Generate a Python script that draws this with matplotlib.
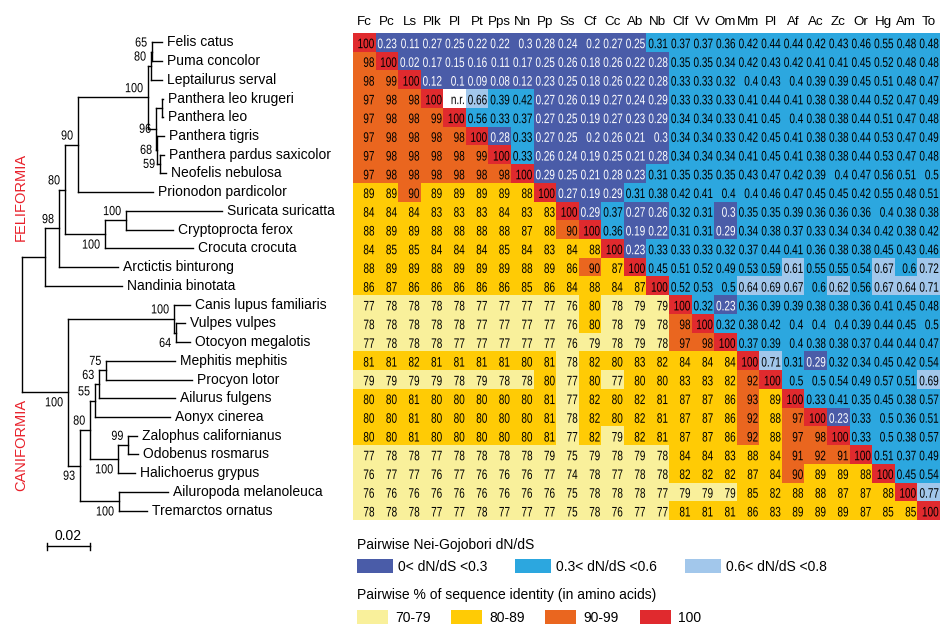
import matplotlib
matplotlib.use("Agg")
import matplotlib.pyplot as plt
import matplotlib.patheffects as pe
import numpy as np
from matplotlib.colors import ListedColormap
from matplotlib.patches import Rectangle
from matplotlib.transforms import Affine2D

plt.rcParams['font.family'] = ['Liberation Sans', 'DejaVu Sans']

# Noms abrégés des colonnes (même ordre que les feuilles de l'arbre)
col_labels = ["Fc", "Pc", "Ls", "Plk", "Pl", "Pt", "Pps", "Nn", "Pp", "Ss", "Cf", "Cc", "Ab",
              "Nb", "Clf", "Vv", "Om", "Mm", "Pl", "Af", "Ac", "Zc", "Or", "Hg", "Am", "To"]

# Matrice : triangle inférieur = % d'identité, diagonale = 100, triangle supérieur = dN/dS
matrix_rows = [
    "100 0.23 0.11 0.27 0.25 0.22 0.22 0.3 0.28 0.24 0.2 0.27 0.25 0.31 0.37 0.37 0.36 0.42 0.44 0.44 0.42 0.43 0.46 0.55 0.48 0.48",
    "98 100 0.02 0.17 0.15 0.16 0.11 0.17 0.25 0.26 0.18 0.26 0.22 0.28 0.35 0.35 0.34 0.42 0.43 0.42 0.41 0.41 0.45 0.52 0.48 0.48",
    "98 99 100 0.12 0.1 0.09 0.08 0.12 0.23 0.25 0.18 0.26 0.22 0.28 0.33 0.33 0.32 0.4 0.43 0.4 0.39 0.39 0.45 0.51 0.48 0.47",
    "97 98 98 100 n.r. 0.66 0.39 0.42 0.27 0.26 0.19 0.27 0.24 0.29 0.33 0.33 0.33 0.41 0.44 0.41 0.38 0.38 0.44 0.52 0.47 0.49",
    "97 98 98 99 100 0.56 0.33 0.37 0.27 0.25 0.19 0.27 0.23 0.29 0.34 0.34 0.33 0.41 0.45 0.4 0.38 0.38 0.44 0.51 0.47 0.48",
    "97 98 98 98 98 100 0.28 0.33 0.27 0.25 0.2 0.26 0.21 0.3 0.34 0.34 0.33 0.42 0.45 0.41 0.38 0.38 0.44 0.53 0.47 0.49",
    "97 98 98 98 98 99 100 0.33 0.26 0.24 0.19 0.25 0.21 0.28 0.34 0.34 0.34 0.41 0.45 0.41 0.38 0.38 0.44 0.53 0.47 0.48",
    "97 98 98 98 98 98 98 100 0.29 0.25 0.21 0.28 0.23 0.31 0.35 0.35 0.35 0.43 0.47 0.42 0.39 0.4 0.47 0.56 0.51 0.5",
    "89 89 90 89 89 89 89 88 100 0.27 0.19 0.29 0.31 0.38 0.42 0.41 0.4 0.4 0.46 0.47 0.45 0.45 0.42 0.55 0.48 0.51",
    "84 84 84 83 83 83 84 83 83 100 0.29 0.37 0.27 0.26 0.32 0.31 0.3 0.35 0.35 0.39 0.36 0.36 0.36 0.4 0.38 0.38",
    "88 89 89 88 88 88 88 87 88 90 100 0.36 0.19 0.22 0.31 0.31 0.29 0.34 0.38 0.37 0.33 0.34 0.34 0.42 0.38 0.42",
    "84 85 85 84 84 84 85 84 83 84 88 100 0.23 0.33 0.33 0.33 0.32 0.37 0.44 0.41 0.36 0.38 0.38 0.45 0.43 0.46",
    "88 89 89 88 89 89 89 88 89 86 90 87 100 0.45 0.51 0.52 0.49 0.53 0.59 0.61 0.55 0.55 0.54 0.67 0.6 0.72",
    "86 87 86 86 86 86 86 85 86 84 88 84 87 100 0.52 0.53 0.5 0.64 0.69 0.67 0.6 0.62 0.56 0.67 0.64 0.71",
    "77 78 78 78 78 77 77 77 77 76 80 78 79 79 100 0.32 0.23 0.36 0.39 0.39 0.38 0.38 0.36 0.41 0.45 0.48",
    "78 78 78 78 78 77 77 77 77 76 80 78 79 78 98 100 0.32 0.38 0.42 0.4 0.4 0.4 0.39 0.44 0.45 0.5",
    "77 78 78 78 77 77 77 77 77 76 79 78 79 78 97 98 100 0.37 0.39 0.4 0.38 0.38 0.37 0.44 0.44 0.47",
    "81 81 82 81 81 81 81 80 81 78 82 80 83 82 84 84 84 100 0.71 0.31 0.29 0.32 0.34 0.45 0.42 0.54",
    "79 79 79 79 78 79 78 78 80 77 80 77 80 80 83 83 82 92 100 0.5 0.5 0.54 0.49 0.57 0.51 0.69",
    "80 80 81 80 80 80 80 80 81 77 82 80 82 81 87 87 86 93 89 100 0.33 0.41 0.35 0.45 0.38 0.57",
    "80 80 81 80 80 80 80 80 81 78 82 80 82 81 87 87 86 92 88 97 100 0.23 0.33 0.5 0.36 0.51",
    "80 80 81 80 80 80 80 80 81 77 82 79 82 81 87 87 86 92 88 97 98 100 0.33 0.5 0.38 0.57",
    "77 78 78 77 78 78 78 78 79 75 79 78 79 78 84 84 83 88 84 91 92 91 100 0.51 0.37 0.49",
    "76 77 77 76 77 76 76 76 77 74 78 77 78 78 82 82 82 87 84 90 89 89 88 100 0.45 0.54",
    "76 76 76 76 76 76 76 76 76 75 78 78 78 77 79 79 79 85 82 88 88 87 87 88 100 0.77",
    "78 78 78 77 77 78 77 77 77 75 78 76 77 77 81 81 81 86 83 89 89 89 87 85 85 100",
]

# Arbre : (nom ou enfants, longueur de branche, bootstrap, côté de l'étiquette)
felis = ([("Felis catus", 0.0047), ("Puma concolor", 0.0047)], 0.0005, "65", "up")
lynx = ([felis, ("Leptailurus serval", 0.0051)], 0.0014, "80", "up")
leo = ([("Panthera leo krugeri", 0.0005), ("Panthera leo", 0.0005)], 0.0028, None, None)
pardus = ([("Panthera pardus saxicolor", 0.0019), ("Neofelis nebulosa", 0.0028)], 0.0014, "59", "mid")
tigris = ([("Panthera tigris", 0.0033), pardus], 0.0005, "68", "mid")
panthera = ([leo, tigris], 0.0037, "96", "mid")
felidae = ([lynx, panthera], 0.0326, "100", "up")
node90 = ([felidae, ("Prionodon pardicolor", 0.0349)], 0.0060, "90", "up")
suricata = ([("Suricata suricatta", 0.0447), ("Cryptoprocta ferox", 0.0219)], 0.0098, "100", "up")
hyaena = ([suricata, ("Crocuta crocuta", 0.0409)], 0.0186, "100", "down")
node80 = ([node90, hyaena], 0.0028, "80", "up")
node98 = ([node80, ("Arctictis binturong", 0.0274)], 0.0065, "98", "up")
feliformia = ([node98, ("Nandinia binotata", 0.0358)], 0.0107, None, None)

vulpes = ([("Vulpes vulpes", 0.0042), ("Otocyon megalotis", 0.0065)], 0.0009, "64", "down")
canidae = ([("Canis lupus familiaris", 0.0074), vulpes], 0.0493, "100", "up")
node75 = ([("Mephitis mephitis", 0.0321), ("Procyon lotor", 0.0400)], 0.0033, "75", "up")
node63 = ([node75, ("Ailurus fulgens", 0.0353)], 0.0019, "63", "up")
node55 = ([node63, ("Aonyx cinerea", 0.0349)], 0.0023, "55", "up")
node99 = ([("Zalophus californianus", 0.0042), ("Odobenus rosmarus", 0.0047)], 0.0047, "99", "up")
pinnipeds = ([node99, ("Halichoerus grypus", 0.0079)], 0.0130, "100", "down")
node80c = ([node55, pinnipeds], 0.0047, "80", "up")
bears = ([("Ailuropoda melanoleuca", 0.0228), ("Tremarctos ornatus", 0.0130)], 0.0181, "100", "down")
node93 = ([node80c, bears], 0.0056, "93", "down")
caniformia = ([canidae, node93], 0.0214, "100", "down")
tree = ([feliformia, caniformia], 0.0, None, None)

# Légende
dnds_labels = ["0< dN/dS <0.3", "0.3< dN/dS <0.6", "0.6< dN/dS <0.8"]
ident_labels = ["70-79", "80-89", "90-99", "100"]

DARK, CYAN, LIGHT = "#4a5ca8", "#2ca7df", "#a2c7eb"
PALE, YELLOW, ORANGE, RED = "#f9f09b", "#ffcb05", "#ea661f", "#e02a2e"
cmap = ListedColormap([DARK, CYAN, LIGHT, PALE, YELLOW, ORANGE, RED, "white"])


class Tall(pe.AbstractPathEffect):
    """Étire le texte verticalement (aspect d'une police étroite type Helvetica Condensed)"""

    def __init__(self, sy):
        super().__init__()
        self.sy = sy

    def draw_path(self, renderer, gc, tpath, affine, rgbFace=None):
        ext = tpath.get_extents()
        yc = (ext.y0 + ext.y1) / 2
        stretch = Affine2D().translate(0, -yc).scale(1, self.sy).translate(0, yc)
        renderer.draw_path(gc, tpath, stretch + affine, rgbFace)


W, H = 940, 625
fig = plt.figure(figsize=(W / 100, H / 100), dpi=100)


def px_axes(x0, y0, x1, y1):
    """Axes placé en pixels (origine en haut à gauche)"""
    return fig.add_axes([x0 / W, 1 - y1 / H, (x1 - x0) / W, (y1 - y0) / H])


def category(tok, i, j):
    if tok == "n.r.":
        return 7
    v = float(tok)
    if i == j:
        return 6
    if i > j:
        return 3 if v < 80 else (4 if v < 90 else 5)
    return 0 if v <= 0.3 else (1 if v <= 0.6 else 2)


# ---- Matrice ----
tokens = [r.split() for r in matrix_rows]
n = len(tokens)
cats = np.array([[category(tokens[i][j], i, j) for j in range(n)] for i in range(n)])

ax_m = px_axes(353, 33, 940, 520)
ax_m.imshow(cats, cmap=cmap, vmin=-0.5, vmax=7.5, aspect='auto', interpolation='nearest')
tall = [Tall(1.38)]
for i in range(n):
    for j in range(n):
        color = "white" if cats[i, j] == 0 else "black"
        ax_m.text(j + 0.45, i + 0.08, tokens[i][j], ha='right', va='center',
                  fontsize=7.2, color=color, path_effects=tall)
for j, lab in enumerate(col_labels):
    ax_m.text(j, -0.93, lab, ha='center', va='baseline', fontsize=9.6, clip_on=False)
ax_m.set_xlim(-0.5, n - 0.5)
ax_m.set_ylim(n - 0.5, -0.5)
ax_m.axis('off')

# ---- Arbre ----
PX = 0.02 / 43  # 43 pixels = 0.02
ax_t = px_axes(0, 33, 353, 520)
ax_t.set_xlim(-22 * PX, 331 * PX)
ax_t.set_ylim(n - 0.5, -0.5)
ax_t.axis('off')
LW = 1.0
counter = [0]
boot_fx = [Tall(1.22)]


def draw_clade(node, x_parent):
    children, bl = node[0], node[1]
    x = x_parent + bl
    if isinstance(children, str):
        y = counter[0]
        counter[0] += 1
        ax_t.plot([x_parent, x], [y, y], color='black', lw=LW)
        ax_t.annotate(children, (x, y), xytext=(3.5, 0), textcoords='offset points',
                      va='center', ha='left', fontsize=10)
        return y
    ys = [draw_clade(c, x) for c in children]
    y = (ys[0] + ys[-1]) / 2
    ax_t.plot([x_parent, x], [y, y], color='black', lw=LW)
    ax_t.plot([x, x], [ys[0], ys[-1]], color='black', lw=LW)
    support, side = node[2], node[3]
    if support:
        dy = {"up": 6.5, "down": -7.5, "mid": 0}[side]
        ax_t.annotate(support, (x, y), xytext=(-3.5, dy), textcoords='offset points',
                      ha='right', va='center', fontsize=7.8, path_effects=boot_fx)
    return y


draw_clade(tree, 0.0)

# barre d'échelle
sb_x = 25 * PX
ax_t.plot([sb_x, sb_x + 0.02], [26.9, 26.9], color='black', lw=LW, clip_on=False)
for xx in (sb_x, sb_x + 0.02):
    ax_t.plot([xx, xx], [26.72, 27.08], color='black', lw=LW, clip_on=False)
ax_t.text(sb_x + 0.01, 26.35, "0.02", ha='center', va='center', fontsize=10, clip_on=False)

fig.text(21 / W, 1 - 197 / H, "FELIFORMIA", rotation=90, color="#e8202a",
         ha='center', va='center', fontsize=10.5)
fig.text(21 / W, 1 - 445 / H, "CANIFORMIA", rotation=90, color="#e8202a",
         ha='center', va='center', fontsize=10.5)

# ---- Légende ----
ax_l = px_axes(0, 0, W, H)
ax_l.set_xlim(0, W)
ax_l.set_ylim(H, 0)
ax_l.axis('off')
ax_l.patch.set_alpha(0)

ax_l.text(357, 545, "Pairwise Nei-Gojobori dN/dS", ha='left', va='center', fontsize=10)
for lab, col, x0 in zip(dnds_labels, [DARK, CYAN, LIGHT], [357, 515, 685]):
    ax_l.add_patch(Rectangle((x0, 559), 36, 14, color=col, lw=0))
    ax_l.text(x0 + 41, 567, lab, ha='left', va='center', fontsize=10)

ax_l.text(357, 595, "Pairwise % of sequence identity (in amino acids)", ha='left', va='center', fontsize=10)
for lab, col, x0 in zip(ident_labels, [PALE, YELLOW, ORANGE, RED], [357, 451, 545, 640]):
    ax_l.add_patch(Rectangle((x0, 610), 31, 14, color=col, lw=0))
    ax_l.text(x0 + 38, 618, lab, ha='left', va='center', fontsize=10)

fig.savefig("out.png", dpi=100)
